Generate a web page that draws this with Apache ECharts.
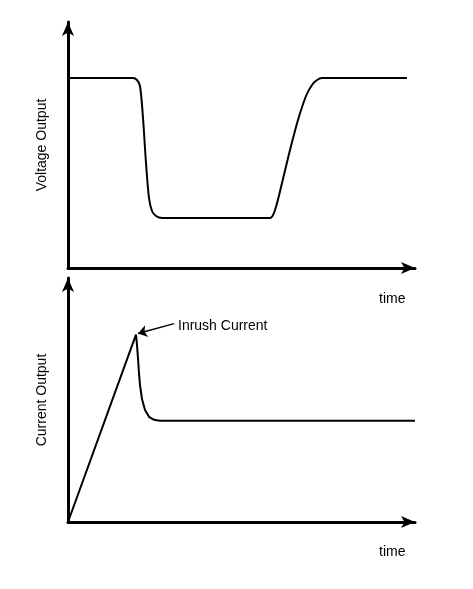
<!DOCTYPE html>
<html>
<head>
<script src="https://cdn.jsdelivr.net/npm/echarts@6/dist/echarts.min.js"></script>
<style>html,body{margin:0;padding:0;background:#fff}#c{width:473px;height:589px}</style>
</head>
<body>
<div id="c"></div>
<script>
// Top panel: voltage output (x in time units, y in level units)
const voltageX = [0, 65, 69, 72, 75, 78, 81, 84, 88, 94, 202, 207, 214, 222, 230, 238, 244, 249, 254, 339];
const voltageY = [190, 190, 188, 182, 150, 105, 70, 57, 52, 50, 50, 58, 85, 118, 148, 172, 183, 188, 190, 190];
// Bottom panel: current output
const currentX = [0, 68, 69, 70, 71, 72, 74, 77, 81, 86, 92, 347];
const currentY = [0, 189, 178, 165, 150, 138, 124, 113, 106, 103, 102, 102];

const chart = echarts.init(document.getElementById('c'));
const font = 'Liberation Sans, Arial, sans-serif';
const axisLine = { show: true, lineStyle: { color: '#000', width: 3 }, symbol: ['none', 'arrow'], symbolSize: [9, 14] };
function xAx(i) {
  return { gridIndex: i, type: 'value', min: 0, max: 347, axisLine: axisLine,
    axisTick: { show: false }, axisLabel: { show: false }, splitLine: { show: false } };
}
function yAx(i, name) {
  return { gridIndex: i, type: 'value', min: 0, max: 246, axisLine: axisLine,
    axisTick: { show: false }, axisLabel: { show: false }, splitLine: { show: false },
    name: name, nameLocation: 'middle', nameGap: 14, nameRotate: 90,
    nameTextStyle: { color: '#000', fontSize: 14, fontFamily: font } };
}
const lineStyle = { color: '#000', width: 2 };
chart.setOption({
  animation: false,
  grid: [
    { left: 68, right: 58, top: 22, height: 246 },
    { left: 68, right: 58, top: 278, height: 244 }
  ],
  xAxis: [xAx(0), xAx(1)],
  yAxis: [yAx(0, 'Voltage Output'), yAx(1, 'Current Output')],
  series: [
    { type: 'line', xAxisIndex: 0, yAxisIndex: 0, symbol: 'none', smooth: 0.3, lineStyle: lineStyle,
      data: voltageX.map((x, i) => [x, voltageY[i]]) },
    { type: 'line', xAxisIndex: 1, yAxisIndex: 1, symbol: 'none', smooth: false, lineStyle: lineStyle,
      data: currentX.map((x, i) => [x, currentY[i]]),
      markLine: { silent: true, symbol: ['none', 'arrow'], symbolSize: 9,
        lineStyle: { color: '#000', width: 1.5, type: 'solid' }, label: { show: false },
        data: [[{ coord: [106, 200] }, { coord: [70, 190] }]] } }
  ],
  graphic: [
    { type: 'text', left: 178, top: 314, style: { text: 'Inrush Current', fill: '#000', font: '14px ' + font } },
    { type: 'text', left: 379, top: 287, style: { text: 'time', fill: '#000', font: '14px ' + font } },
    { type: 'text', left: 379, top: 540, style: { text: 'time', fill: '#000', font: '14px ' + font } }
  ]
});
</script>
</body>
</html>
